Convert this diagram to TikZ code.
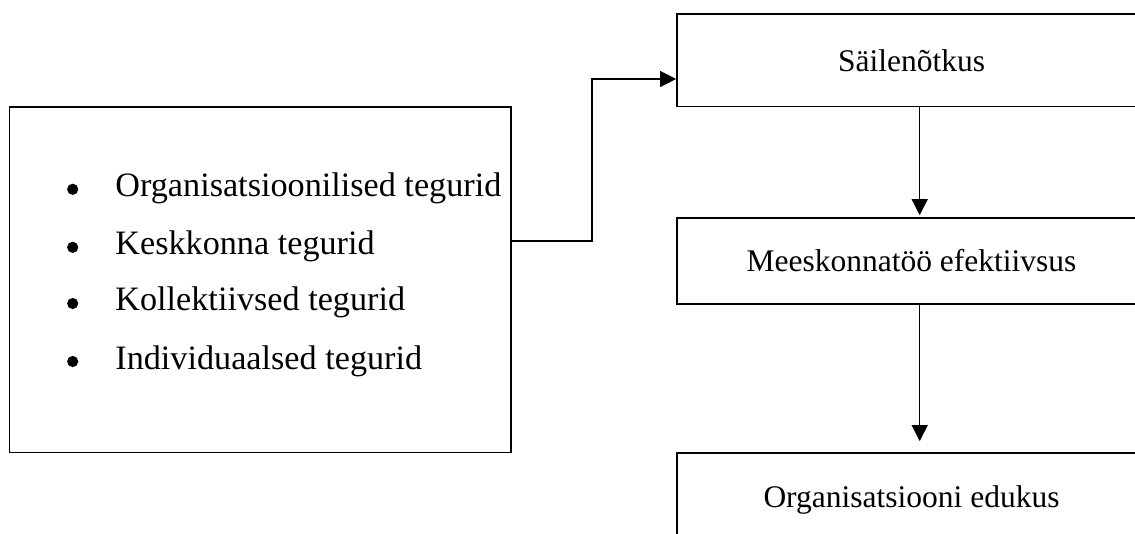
\documentclass[tikz,border=0pt]{standalone}
\usepackage{fontspec}
\setmainfont{Liberation Serif}
\usetikzlibrary{arrows.meta,calc}
\begin{document}
\begin{tikzpicture}[x=0.5pt,y=-0.5pt,
  box/.style={draw, line width=0.85pt, rectangle, inner sep=0pt, font=\fontsize{15.75}{18}\selectfont},
  conn/.style={line width=0.65pt},
  arr/.style={conn, -{Triangle[length=8pt,width=8pt]}},
  txt/.style={font=\fontsize{15.75}{18}\selectfont, inner sep=0pt, anchor=base west},
  ltxt/.style={txt, font=\fontsize{17.1}{20}\selectfont},
  bul/.style={circle, fill, inner sep=0pt, minimum size=5.6pt}]
\clip (0,0) rectangle (1135,534);
\useasboundingbox (0,0) rectangle (1135,534);
% left box
\node[box, minimum width=250.75pt, minimum height=172.75pt] (left) at (260.25,279.75) {};
\node[bul] (b1) at (72.7,189.3) {};
\node[bul] (b2) at (72.7,247.3) {};
\node[bul] (b3) at (72.7,303.5) {};
\node[bul] (b4) at (72.7,361.5) {};
\node[ltxt] (t1) at (115,197) {Organisatsioonilised tegurid};
\node[ltxt] (t2) at (115,255) {Keskkonna tegurid};
\node[ltxt] (t3) at (115,311) {Kollektiivsed tegurid};
\node[ltxt] (t4) at (115,369) {Individuaalsed tegurid};
% right boxes
\node[box, minimum width=234.5pt, minimum height=46.25pt] (s) at (911.5,60.25) {Säilenõtkus};
\node[box, minimum width=234.5pt, minimum height=43pt] (m) at (911.5,261) {Meeskonnatöö efektiivsus};
\node[box, minimum width=234.5pt, minimum height=53.5pt] (o) at (911.5,506.5) {};
\node[txt, anchor=base] (ot) at (911.5,507) {Organisatsiooni edukus};
% connectors
\coordinate (bend) at (592,241);
\draw[arr] ($(left.east)+(0,-38.75)$) -- (bend) |- ($(s.west)+(0,18.75)$);
\draw[arr] ($(s.south)+(8.2,0)$) -- ($(m.north)+(8.2,-2)$);
\draw[arr] ($(m.south)+(8.2,0)$) -- ($(o.north)+(8.2,-11)$);
\end{tikzpicture}
\end{document}
